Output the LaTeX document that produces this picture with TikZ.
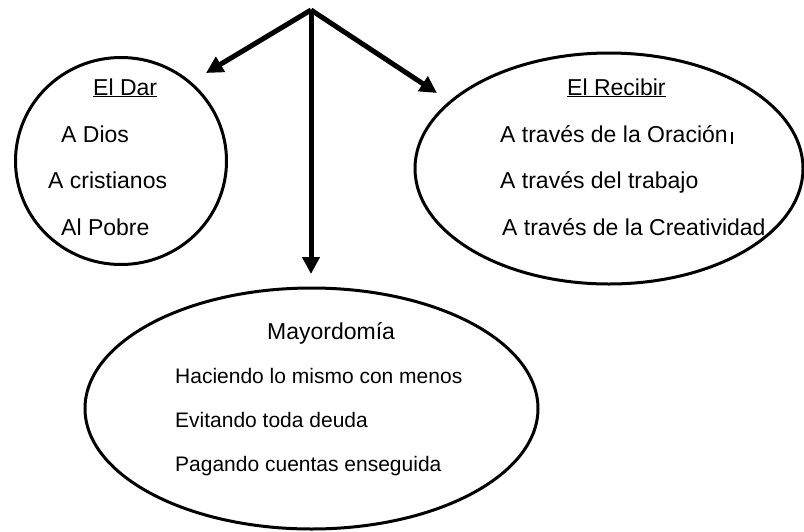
\documentclass[tikz,border=0pt]{standalone}
\usepackage{fontspec}
\setmainfont{Liberation Sans}
\usetikzlibrary{shapes.geometric,arrows.meta}
\tikzset{
  bubble/.style={draw, line width=3pt, ellipse, inner sep=0pt, outer sep=0pt},
  big/.style={anchor=base west, inner sep=0pt, font=\fontsize{23}{27}\selectfont},
  small/.style={anchor=base west, inner sep=0pt, font=\fontsize{21}{25}\selectfont},
  bigarrow/.style={line width=5pt, -{Triangle[length=17pt,width=17pt]}}
}
\begin{document}
\begin{tikzpicture}[x=1pt,y=-1pt]
\useasboundingbox (0,0) rectangle (804,531);
% shapes
\node[bubble, minimum width=211pt, minimum height=207pt] (dar) at (121,161) {};
\node[bubble, minimum width=388pt, minimum height=231pt] (recibir) at (609,168.5) {};
\node[bubble, minimum width=453pt, minimum height=241pt] (mayor) at (311.5,408.5) {};
% arrows
\coordinate (top) at (311,10);
\coordinate (tipL) at (206,73);
\coordinate (tipR) at (437,93);
\coordinate (tipD) at (311,274);
\draw[bigarrow] (top) -- (tipL);
\draw[bigarrow] (top) -- (tipR);
\draw[bigarrow] (top) -- (tipD);
% left texts
\node[big] (t1) at (93,95) {\underline{El Dar}};
\node[big] (t2) at (61,142) {A Dios};
\node[big] (t3) at (48,188) {A cristianos};
\node[big] (t4) at (61,235) {Al Pobre};
% right texts
\node[big] (r1) at (567,95) {\underline{El Recibir}};
\node[big] (r2) at (500,142) {A través de la Oración\kern3.5pt\rule[-1.5pt]{1.5pt}{11.5pt}};
\node[big] (r3) at (500,188) {A través del trabajo};
\node[big] (r4) at (502,235) {A través de la Creatividad};
% bottom texts
\node[big] (m1) at (267,339) {Mayordomía};
\node[small] (m2) at (175,383) {Haciendo lo mismo con menos};
\node[small] (m3) at (175,427) {Evitando toda deuda};
\node[small] (m4) at (175,471) {Pagando cuentas enseguida};
\end{tikzpicture}
\end{document}
